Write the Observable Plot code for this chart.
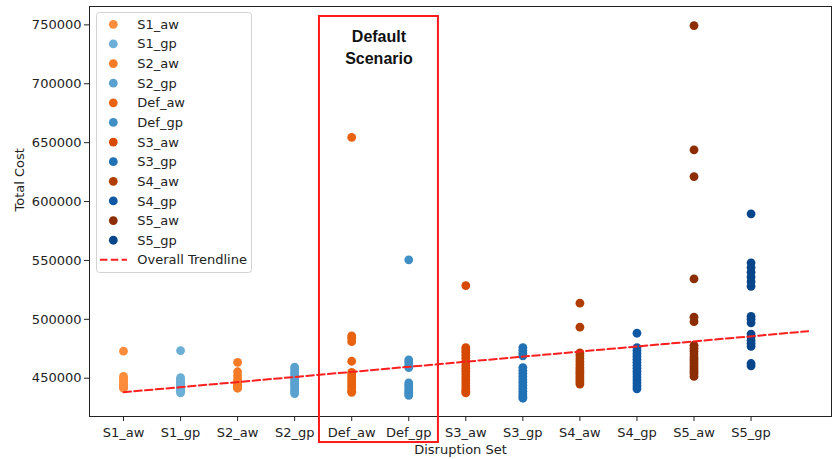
<!DOCTYPE html>
<html>
<head>
<meta charset="utf-8">
<script src="https://cdn.jsdelivr.net/npm/d3@7"></script>
<script src="https://cdn.jsdelivr.net/npm/@observablehq/plot@0.6"></script>
<style>
  html, body { margin: 0; padding: 0; background: #fff; }
  #chart { width: 833px; height: 459px; }
</style>
</head>
<body>
<div id="chart"></div>
<script>
// ---- Data ----
const categories = ["S1_aw","S1_gp","S2_aw","S2_gp","Def_aw","Def_gp","S3_aw","S3_gp","S4_aw","S4_gp","S5_aw","S5_gp"];

const S1_aw = [473000, 451500, 450000, 448500, 447000, 446000, 445000, 444000, 443000, 442000, 441500];
const S1_gp = [473500, 450500, 449000, 447500, 446000, 445000, 444000, 443000, 442000, 441000, 440000, 439000, 437500];
const S2_aw = [463500, 455500, 452000, 449000, 447000, 446000, 445000, 444000, 443000, 442000, 441500];
const S2_gp = [459500, 457500, 455000, 453000, 451000, 449000, 447000, 445500, 444000, 442000, 440000, 438500, 437000];
const Def_aw = [654500, 486000, 484000, 481000, 464400, 455000, 453000, 451000, 449000, 447000, 445000, 443000, 441000, 439000, 438000];
const Def_gp = [550500, 465500, 463500, 461000, 459000, 446000, 444000, 442000, 440000, 438500, 437000, 435500];
const S3_aw = [528700, 476000, 474000, 472000, 469500, 467000, 464000, 461000, 458500, 456000, 453500, 451000, 448500, 446000, 443500, 441000, 439000, 437500];
const S3_gp = [476000, 473500, 471000, 469000, 459000, 456500, 454000, 451500, 449000, 446500, 444000, 441500, 439000, 436500, 434500, 433000];
const S4_aw = [513700, 493300, 471500, 469000, 466500, 464000, 461500, 459000, 457000, 455000, 453000, 451000, 449000, 447000, 445000];
const S4_gp = [488200, 476000, 473500, 471000, 468500, 466000, 463500, 461000, 458500, 456000, 453500, 451000, 448500, 446000, 443500, 441000];
const S5_aw = [749400, 643900, 621200, 534400, 501800, 498000, 478000, 475500, 473000, 470500, 468000, 466000, 464000, 462000, 460000, 458000, 456000, 454000, 451500];
const S5_gp = [589600, 548000, 544000, 540000, 536000, 532000, 528000, 502500, 500000, 497000, 487500, 485000, 482000, 479500, 477000, 462500, 460500];

const seriesValues = [S1_aw, S1_gp, S2_aw, S2_gp, Def_aw, Def_gp, S3_aw, S3_gp, S4_aw, S4_gp, S5_aw, S5_gp];

const seriesColors = ["#fd8d3c","#6baed6","#f57b26","#5aa1cf","#e8620f","#3f8fc5","#d64a04","#2171b5","#b03e03","#0f59a4","#8c2d04","#08468b"];

// fitted overall trendline (endpoints)
const trendX = [0, 12];
const trendY = [438100, 489900];

const yTicks = [450000, 500000, 550000, 600000, 650000, 700000, 750000];

// highlighted "Default Scenario" box (in data units)
const boxX = [3.435, 5.52];
const boxY = [395400, 757100];
const boxLabel = "Default\nScenario";

// ---- Build tables ----
const points = [];
seriesValues.forEach((vals, i) => vals.forEach(v => points.push({i, cat: categories[i], v})));
const trend = trendX.map((x, k) => ({x, y: trendY[k]}));

const font = "DejaVu Sans, sans-serif";

const plot = Plot.plot({
  width: 833,
  height: 459,
  marginLeft: 89,
  marginRight: 2,
  marginTop: 6,
  marginBottom: 43,
  style: {fontFamily: font, fontSize: "13px", color: "#222", background: "#fff"},
  x: {domain: [-0.596, 12.41]},
  y: {domain: [417500, 765600]},
  color: {domain: categories, range: seriesColors},
  marks: [
    Plot.frame({stroke: "#222", strokeWidth: 1}),
    Plot.axisY({ticks: yTicks, tickFormat: d3.format("d"), tickSize: 5, tickPadding: 3, label: null, fontSize: 13}),
    Plot.axisX({ticks: d3.range(categories.length), tickFormat: i => categories[i], tickSize: 5, tickPadding: 6, label: null, fontSize: 13}),
    Plot.dot(points, {x: "i", y: "v", fill: "cat", r: 4.4, stroke: null}),
    Plot.line(trend, {x: "x", y: "y", stroke: "#ff1f1f", strokeWidth: 2, strokeDasharray: "7.5,3.3"}),
    Plot.rect([{x1: boxX[0], x2: boxX[1], y1: boxY[0], y2: boxY[1]}], {x1: "x1", x2: "x2", y1: "y1", y2: "y2", fill: "none", stroke: "#ff1a1a", strokeWidth: 2}),
    Plot.text([boxLabel], {x: [(boxX[0] + boxX[1]) / 2], frameAnchor: "top", lineAnchor: "top", dy: 20, text: d => d, fontSize: 16, fontWeight: "bold", fontFamily: "Liberation Sans, Arial, sans-serif", lineHeight: 1.375, fill: "#111"}),
    Plot.text(["Disruption Set"], {frameAnchor: "bottom", lineAnchor: "top", dy: 28, text: d => d, fontSize: 13, fill: "#222"}),
    Plot.text(["Total Cost"], {frameAnchor: "left", rotate: -90, lineAnchor: "bottom", dx: -66, text: d => d, fontSize: 13, fill: "#222"})
  ]
});

document.getElementById("chart").appendChild(plot);

// ---- Legend (inside the plot area, like matplotlib) ----
const svg = d3.select(plot);
const legendItems = categories.map((c, i) => ({label: c, color: seriesColors[i], type: "dot"}))
  .concat([{label: "Overall Trendline", color: "#ff1f1f", type: "line"}]);
const lg = svg.append("g").attr("class", "legend").attr("text-anchor", "start");
lg.append("rect")
  .attr("x", 96.5).attr("y", 12.5).attr("width", 155).attr("height", 260)
  .attr("rx", 3).attr("fill", "#fff").attr("fill-opacity", 0.85)
  .attr("stroke", "#d3d3d3").attr("stroke-width", 1);
legendItems.forEach((d, k) => {
  const cy = 24.3 + 19.63 * k;
  if (d.type === "dot") {
    lg.append("circle").attr("cx", 113.3).attr("cy", cy).attr("r", 4.4).attr("fill", d.color);
  } else {
    lg.append("line").attr("x1", 100).attr("x2", 127).attr("y1", cy).attr("y2", cy)
      .attr("stroke", d.color).attr("stroke-width", 2).attr("stroke-dasharray", "7.5,3.3");
  }
  lg.append("text").attr("x", 137.3).attr("y", cy).attr("dy", "0.35em")
    .attr("text-anchor", "start")
    .attr("font-family", font).attr("font-size", 13).attr("fill", "#222").text(d.label);
});
</script>
</body>
</html>
